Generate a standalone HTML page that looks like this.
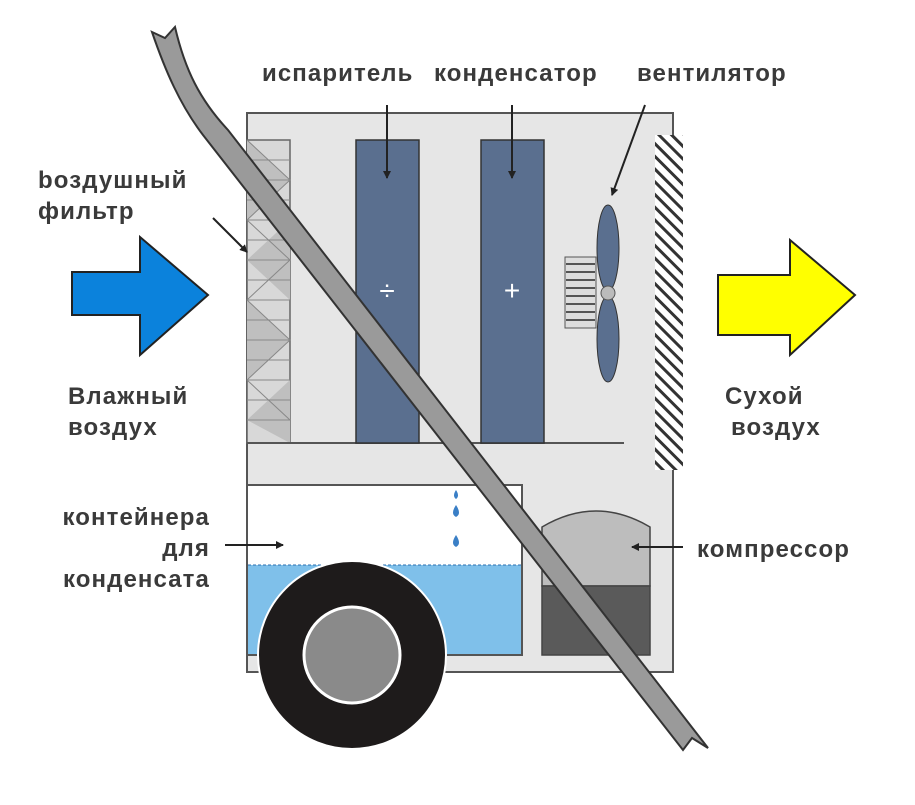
<!DOCTYPE html>
<html><head><meta charset="utf-8"><style>
html,body{margin:0;padding:0;background:#fff;}
svg text{font-family:"Liberation Sans",sans-serif;font-weight:bold;font-size:24px;letter-spacing:1.1px;fill:#3a3a3a;}
</style></head><body>
<svg width="915" height="800" viewBox="0 0 915 800" xmlns="http://www.w3.org/2000/svg">
<defs>
<marker id="ah" markerWidth="8" markerHeight="8" refX="7" refY="4" orient="auto" markerUnits="userSpaceOnUse"><path d="M0,0 L8,4 L0,8 Z" fill="#222"/></marker>
<pattern id="hatch" width="9" height="9" patternUnits="userSpaceOnUse" patternTransform="rotate(-45)"><rect width="9" height="9" fill="#fff"/><rect width="3" height="9" fill="#333"/></pattern>
</defs>
<rect x="247" y="113" width="426" height="559" fill="#e6e6e6" stroke="#555" stroke-width="2"/>
<rect x="247" y="140" width="43" height="303" fill="#d8d8d8" stroke="#666" stroke-width="1.5"/>
<g fill="#bfbfbf"><path d="M247,140 L290,180 L247,220 Z"/><path d="M290,220 L247,260 L290,300 Z"/><path d="M247,300 L290,340 L247,380 Z"/><path d="M290,380 L247,420 L290,443 Z"/></g>
<g stroke="#888" stroke-width="1" fill="none">
<path d="M247,160 H290 M247,180 H290 M247,200 H290 M247,220 H290 M247,240 H290 M247,260 H290 M247,280 H290 M247,300 H290 M247,320 H290 M247,340 H290 M247,360 H290 M247,380 H290 M247,400 H290 M247,420 H290"/>
<path d="M247,140 L290,180 L247,220 L290,260 L247,300 L290,340 L247,380 L290,420"/>
</g>
<line x1="247" y1="443" x2="624" y2="443" stroke="#555" stroke-width="2"/>
<rect x="356" y="140" width="63" height="303" fill="#5a6f8f" stroke="#333" stroke-width="1.5"/>
<rect x="481" y="140" width="63" height="303" fill="#5a6f8f" stroke="#333" stroke-width="1.5"/>
<text x="387" y="300" text-anchor="middle" style="fill:#fff;font-size:28px;font-weight:normal;letter-spacing:0">÷</text>
<text x="512" y="300" text-anchor="middle" style="fill:#fff;font-size:28px;font-weight:normal;letter-spacing:0">+</text>
<rect x="565" y="257" width="31" height="71" fill="#ddd" stroke="#555"/>
<g stroke="#555" stroke-width="2"><path d="M566,264H595M566,272H595M566,280H595M566,288H595M566,296H595M566,304H595M566,312H595M566,320H595"/></g>
<ellipse cx="608" cy="248" rx="11" ry="43" fill="#5a6f8f" stroke="#333"/>
<ellipse cx="608" cy="339" rx="11" ry="43" fill="#5a6f8f" stroke="#333"/>
<circle cx="608" cy="293" r="7" fill="#bbb" stroke="#555"/>
<rect x="655" y="135" width="28" height="335" fill="url(#hatch)"/>
<rect x="247" y="485" width="275" height="170" fill="#fff" stroke="#555" stroke-width="2"/>
<rect x="248" y="565" width="273" height="89" fill="#7fc0ea"/>
<line x1="248" y1="565" x2="521" y2="565" stroke="#2a6fb0" stroke-width="1" stroke-dasharray="3,2"/>
<g fill="#3a7fc6"><path d="M456,490 q-4,6 0,9 q4,-3 0,-9z"/><path d="M456,505 q-6,9 0,12 q6,-3 0,-12z"/><path d="M456,535 q-6,9 0,12 q6,-3 0,-12z"/></g>
<path d="M542,527 Q596,495 650,527 V586 H542 Z" fill="#bdbdbd" stroke="#444" stroke-width="1.5"/>
<rect x="542" y="586" width="108" height="69" fill="#5a5a5a" stroke="#444" stroke-width="1.5"/>
<circle cx="352" cy="655" r="94" fill="#1e1b1b" stroke="#fff" stroke-width="2"/>
<circle cx="352" cy="655" r="48" fill="#8a8a8a" stroke="#fff" stroke-width="3"/>
<path d="M152,32 L165,38 L175,27 C185,70 200,100 228,130 L708,748 L692,738 L683,750 L203,135 C180,105 165,70 152,32 Z" fill="#9a9a9a" stroke="#333" stroke-width="2"/>
<path d="M72,272 H140 V237 L208,295 L140,355 V315 H72 Z" fill="#0b82dc" stroke="#222" stroke-width="2"/>
<path d="M718,275 H790 V240 L855,295 L790,355 V335 H718 Z" fill="#ffff00" stroke="#222" stroke-width="2"/>
<g stroke="#222" stroke-width="2" marker-end="url(#ah)">
<line x1="387" y1="105" x2="387" y2="178"/>
<line x1="512" y1="105" x2="512" y2="178"/>
<line x1="645" y1="105" x2="612" y2="195"/>
<line x1="213" y1="218" x2="247" y2="252"/>
<line x1="225" y1="545" x2="283" y2="545"/>
<line x1="683" y1="547" x2="632" y2="547"/>
</g>
<text x="262" y="81">испаритель</text>
<text x="434" y="81">конденсатор</text>
<text x="637" y="81">вентилятор</text>
<text x="38" y="188">bоздушный</text>
<text x="38" y="219">фильтр</text>
<text x="68" y="404">Влажный</text>
<text x="68" y="435">воздух</text>
<text x="725" y="404">Сухой</text>
<text x="731" y="435">воздух</text>
<text x="210" y="525" text-anchor="end">контейнера</text>
<text x="210" y="556" text-anchor="end">для</text>
<text x="210" y="587" text-anchor="end">конденсата</text>
<text x="697" y="557">компрессор</text>
</svg>
</body></html>
